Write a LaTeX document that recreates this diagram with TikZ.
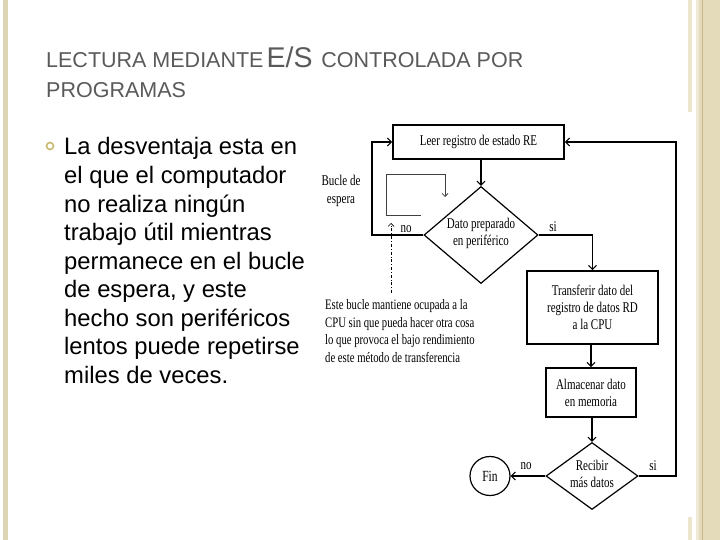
\documentclass[tikz,border=0pt]{standalone}
\usepackage{graphicx}
\usepackage{fontspec}
\setmainfont{Liberation Sans}
\newfontfamily\tnr{Liberation Serif}
\usetikzlibrary{shapes.geometric,arrows.meta}
\definecolor{tanbar}{HTML}{DDD4B3}
\definecolor{tanband}{HTML}{E4DBBB}
\definecolor{tanline}{HTML}{C8B889}
\definecolor{bulletc}{HTML}{C9B970}
\definecolor{titlec}{HTML}{5A5A5A}
\newcommand\vs[1]{\scalebox{1}[1.35]{#1}}
\tikzset{
  box/.style={draw, line width=1.6pt, inner sep=0pt, align=center, font=\tnr\fontsize{11}{17}\selectfont},
  dia/.style={draw, diamond, line width=1.2pt, inner sep=0pt},
  flow/.style={line width=1.1pt},
  arr/.style={line width=1.1pt, -{Straight Barb[length=4pt,width=8pt]}},
  lbl/.style={font=\tnr\fontsize{11}{17}\selectfont, inner sep=0pt},
  bline/.style={anchor=base west, inner sep=0pt, font=\fontsize{23.8}{28.5}\selectfont}
}
\begin{document}
\begin{tikzpicture}[x=1pt,y=-1pt]
\useasboundingbox (0,0) rectangle (720,540);
\fill[white] (0,0) rectangle (720,540);
% decorations
\fill[tanbar] (3,0) rectangle (8,540);
\fill[tanband!70] (688,0) rectangle (692,112);
\fill[tanband!70] (688,517) rectangle (692,540);
\fill[tanband] (696,0) rectangle (720,540);
\fill[tanband!60] (696,0) rectangle (699,540);
\draw[tanline, line width=1pt] (702,0) -- (702,540);
% title
\node[anchor=base west, inner sep=0pt, text=titlec] (t1) at (46,68)
  {\fontsize{21.5}{21.5}\selectfont LECTURA MEDIANTE\hspace{3pt}\fontsize{28.5}{28.5}\selectfont E/S\hspace{1pt} \fontsize{21.5}{21.5}\selectfont CONTROLADA POR};
\node[anchor=base west, inner sep=0pt, text=titlec, font=\fontsize{21.5}{21.5}\selectfont] (t2) at (46,98) {PROGRAMAS};
% bullet
\draw[bulletc, line width=1.6pt] (50,146) circle (3.5pt);
\node[bline] (b1) at (64,155) {La desventaja esta en};
\node[bline] (b2) at (64,183.5) {el que el computador};
\node[bline] (b3) at (64,212) {no realiza ningún};
\node[bline] (b4) at (64,240.5) {trabajo útil mientras};
\node[bline] (b5) at (64,269) {permanece en el bucle};
\node[bline] (b6) at (64,297.5) {de espera, y este};
\node[bline] (b7) at (64,326) {hecho son periféricos};
\node[bline] (b8) at (64,354.5) {lentos puede repetirse};
\node[bline] (b9) at (64,383) {miles de veces.};
% flowchart nodes
\node[box, minimum width=171pt, minimum height=34pt] (box1) at (478.5,142) {\vs{Leer registro de estado RE}};
\node[dia, minimum width=114pt, minimum height=97pt] (dia1) at (481,235) {};
\node[lbl, align=center] (dia1t) at (481,233) {\vs{Dato preparado}\\\vs{en periférico}};
\node[box, minimum width=131pt, minimum height=73pt] (box2) at (592.5,307.5) {\vs{Transferir dato del}\\\vs{registro de datos RD}\\\vs{a la CPU}};
\node[box, minimum width=90pt, minimum height=49pt] (box3) at (591,392.5) {\vs{Almacenar dato}\\\vs{en memoria}};
\node[dia, minimum width=92pt, minimum height=67pt] (dia2) at (592,476) {};
\node[lbl, align=center] (dia2t) at (592,474) {\vs{Recibir}\\\vs{más datos}};
\node[draw, ellipse, line width=1.2pt, minimum width=40pt, minimum height=39pt, inner sep=0pt, font=\tnr\fontsize{11.5}{14}\selectfont] (fin) at (490,476) {\vs{Fin}};
% connectors
\coordinate (rr) at (676,300);
\coordinate (ll) at (372,300);
\draw[arr] (dia1.north |- box1.south) -- (dia1.north);
\draw[arr] (dia1.east) -| (box2.north);
\draw[arr] (box3.north |- box2.south) -- (box3.north);
\draw[arr] (dia2.north |- box3.south) -- (dia2.north);
\draw[arr] (dia2.east) -- (dia2.east -| rr) |- (box1.east);
\draw[arr] (dia1.west) -- (dia1.west -| ll) |- (box1.west);
\draw[arr] (dia2.west) -- (fin.east);
% labels
\node[lbl] (si1) at (553,227) {\vs{si}};
\node[lbl] (no1) at (406,229) {\vs{no}};
\node[lbl] (si2) at (653,466) {\vs{si}};
\node[lbl] (no2) at (526,466) {\vs{no}};
\node[lbl, align=center, font=\tnr\fontsize{11}{18}\selectfont] (bucle) at (341,191) {\vs{Bucle de}\\\vs{espera}};
% small loop icon
\coordinate (i1) at (421,215);
\coordinate (i2) at (386,215);
\coordinate (i3) at (386,174);
\coordinate (i4) at (445,174);
\coordinate (i5) at (445,197);
\draw[line width=0.8pt, black!75, -{Straight Barb[length=3pt,width=6pt]}] (i1) -- (i2) -- (i3) -- (i4) -- (i5);
% dashed pointer
\coordinate (d1) at (391,293);
\coordinate (d2) at (391,223);
\draw[line width=0.7pt, dash dot, -{Straight Barb[length=3pt,width=6pt]}] (d1) -- (d2);
% note
\node[anchor=north west, inner sep=0pt, align=left, font=\tnr\fontsize{10.7}{17.8}\selectfont] (note) at (325,299)
  {\vs{Este bucle mantiene ocupada a la}\\\vs{CPU sin que pueda hacer otra cosa}\\\vs{lo que provoca el bajo rendimiento}\\\vs{de este método de transferencia}};
\end{tikzpicture}
\end{document}
